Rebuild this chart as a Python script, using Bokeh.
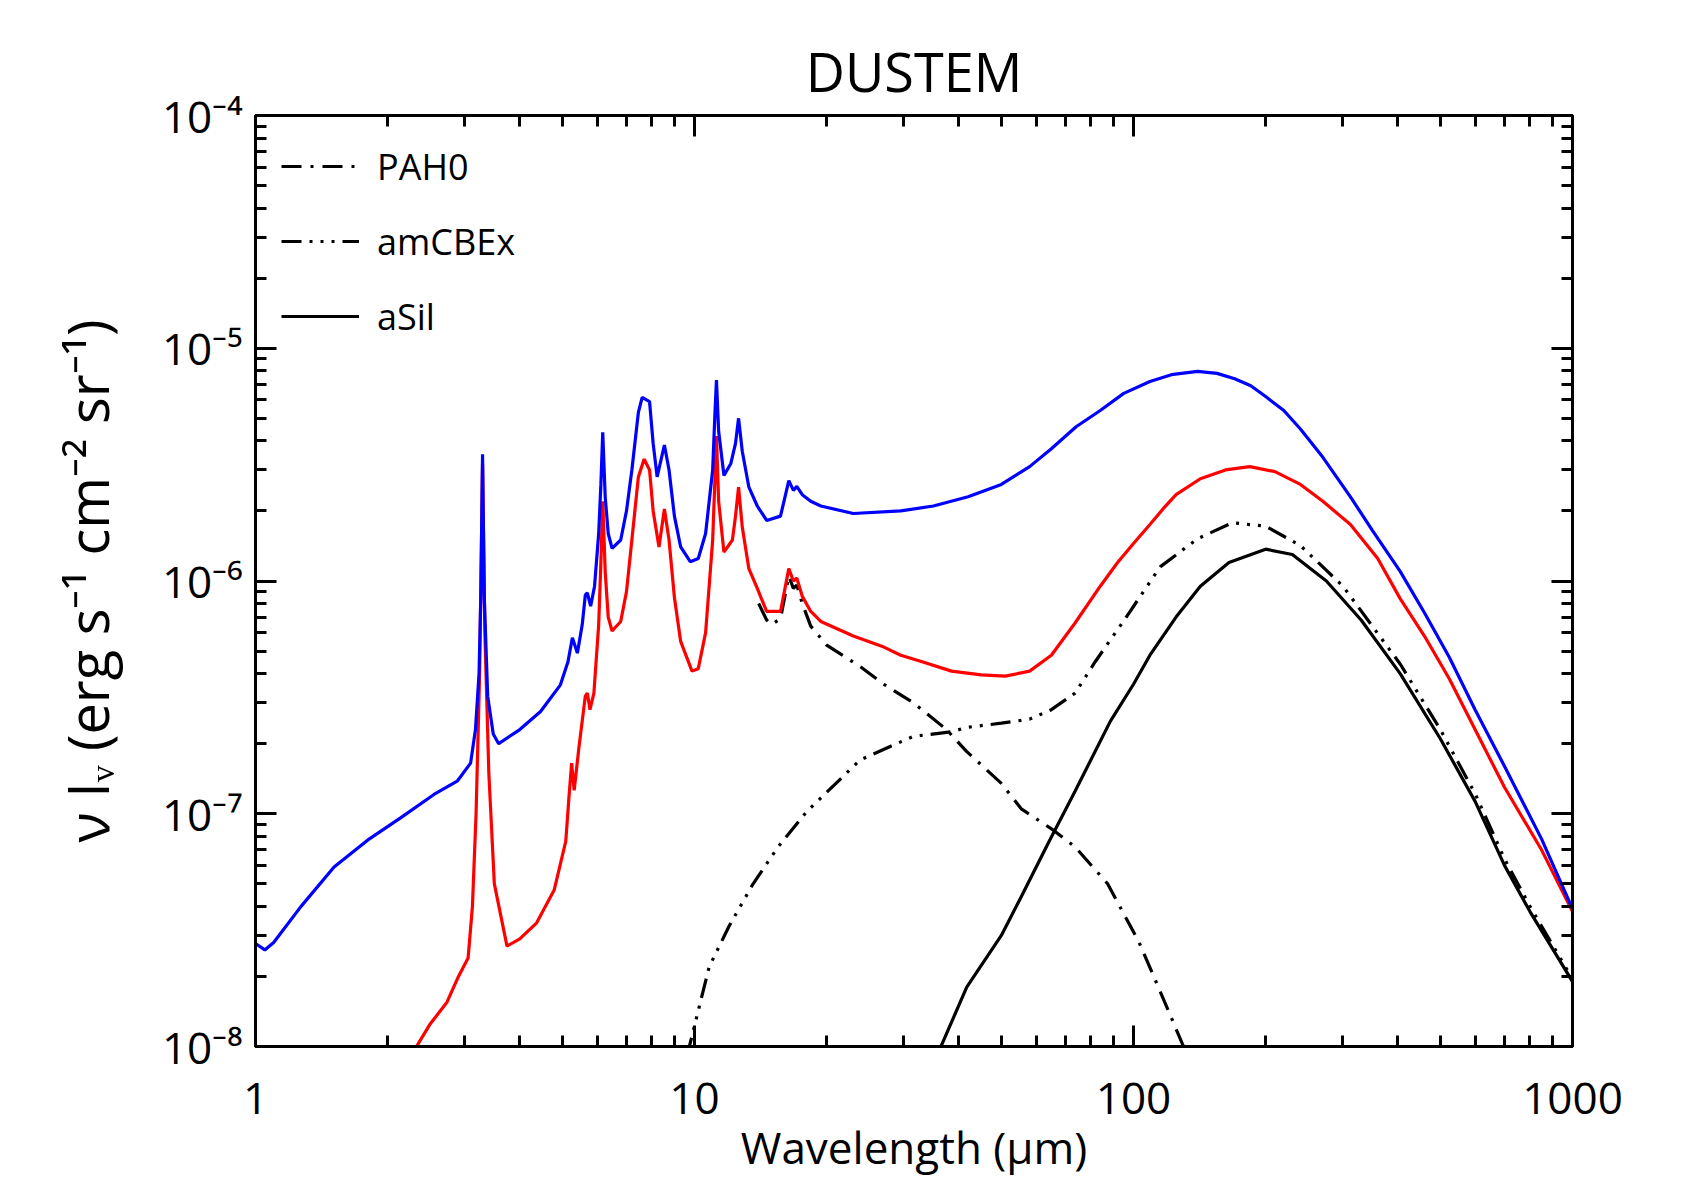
from bokeh.plotting import figure
from bokeh.models import (LogAxis, FixedTicker, CustomJSTickFormatter, Legend,
                          LegendItem, Range1d)
from bokeh.embed import file_html
from bokeh.resources import INLINE

# ---------------- data ----------------
blue_wl = [1.0, 1.05, 1.1, 1.27, 1.51, 1.8, 2.14, 2.55, 2.88, 3.09, 3.17, 3.23, 3.26,
           3.29, 3.32, 3.38, 3.48, 3.58, 4.0, 4.46, 4.95, 5.15, 5.27, 5.41, 5.55,
           5.64, 5.7, 5.8, 5.92, 6.05, 6.12, 6.18, 6.26, 6.36, 6.49, 6.79, 7.0, 7.2,
           7.45, 7.6, 7.9, 8.05, 8.22, 8.54, 8.75, 9.0, 9.3, 9.78, 10.2, 10.6, 11.0,
           11.12, 11.22, 11.35, 11.67, 12.1, 12.4, 12.6, 12.85, 13.3, 13.9, 14.6, 15.7,
           16.4, 16.8, 17.1, 17.6, 18.4, 19.4, 23.0, 29.5, 35.0, 42.0, 50.0, 58.0, 65.0,
           74.0, 84.0, 95.0, 109.0, 122.0, 140.0, 155.0, 170.0, 185.0, 200.0, 220.0,
           240.0, 270.0, 312.0, 350.0, 405.0, 460.0, 524.0, 600.0, 700.0, 850.0, 1000.0]
blue_val = [2.77e-8, 2.6e-8, 2.8e-8, 4.0e-8, 5.9e-8, 7.7e-8, 9.6e-8, 1.21e-7, 1.38e-7,
            1.65e-7, 2.3e-7, 4.0e-7, 8.5e-7, 3.5e-6, 8.5e-7, 3.2e-7, 2.2e-7, 2.0e-7,
            2.3e-7, 2.75e-7, 3.58e-7, 4.5e-7, 5.7e-7, 4.9e-7, 6.5e-7, 8.7e-7, 8.9e-7,
            7.8e-7, 9.5e-7, 1.6e-6, 2.6e-6, 4.35e-6, 2.3e-6, 1.6e-6, 1.38e-6, 1.5e-6,
            2.0e-6, 3.0e-6, 5.3e-6, 6.15e-6, 5.9e-6, 3.9e-6, 2.8e-6, 3.84e-6, 3.0e-6,
            1.9e-6, 1.4e-6, 1.21e-6, 1.25e-6, 1.6e-6, 3.0e-6, 5.0e-6, 7.3e-6, 4.4e-6,
            2.84e-6, 3.2e-6, 3.9e-6, 5.0e-6, 3.6e-6, 2.53e-6, 2.1e-6, 1.82e-6, 1.9e-6,
            2.7e-6, 2.45e-6, 2.55e-6, 2.35e-6, 2.2e-6, 2.1e-6, 1.95e-6, 2.0e-6, 2.1e-6,
            2.3e-6, 2.6e-6, 3.1e-6, 3.7e-6, 4.6e-6, 5.4e-6, 6.4e-6, 7.2e-6, 7.7e-6,
            7.95e-6, 7.8e-6, 7.4e-6, 6.9e-6, 6.2e-6, 5.4e-6, 4.5e-6, 3.4e-6, 2.3e-6,
            1.65e-6, 1.1e-6, 7.3e-7, 4.7e-7, 2.8e-7, 1.6e-7, 7.8e-8, 3.9e-8]

red_wl = [2.25, 2.5, 2.73, 2.9, 3.05, 3.12, 3.18, 3.24, 3.29, 3.33, 3.4, 3.5, 3.74, 4.0,
          4.37, 4.79, 5.09, 5.18, 5.25, 5.32, 5.45, 5.64, 5.7, 5.78, 5.9, 6.05, 6.12,
          6.18, 6.26, 6.36, 6.49, 6.79, 7.0, 7.2, 7.45, 7.68, 7.9, 8.05, 8.3, 8.54, 8.75,
          9.0, 9.3, 9.87, 10.2, 10.6, 11.0, 11.12, 11.22, 11.35, 11.67, 12.2, 12.4, 12.6,
          12.85, 13.3, 13.9, 14.6, 15.7, 16.4, 16.8, 17.1, 17.6, 18.4, 19.4, 23.0, 27.0,
          29.5, 33.0, 38.5, 45.0, 51.0, 58.0, 65.0, 73.6, 84.0, 92.0, 100.0, 109.0, 117.0,
          125.0, 142.0, 162.0, 184.0, 210.0, 240.0, 270.0, 312.0, 360.0, 405.0, 460.0,
          524.0, 600.0, 700.0, 850.0, 1000.0]
red_val = [9.0e-9, 1.25e-8, 1.55e-8, 2.0e-8, 2.4e-8, 4.0e-8, 1.0e-7, 4.0e-7, 3.2e-6,
           6.0e-7, 1.5e-7, 5.0e-8, 2.7e-8, 2.9e-8, 3.4e-8, 4.7e-8, 7.6e-8, 1.2e-7,
           1.65e-7, 1.26e-7, 1.9e-7, 3.2e-7, 3.3e-7, 2.8e-7, 3.3e-7, 6.5e-7, 1.2e-6,
           2.2e-6, 1.1e-6, 7.0e-7, 6.1e-7, 6.7e-7, 9.0e-7, 1.5e-6, 2.8e-6, 3.34e-6,
           3.0e-6, 2.0e-6, 1.4e-6, 2.04e-6, 1.5e-6, 8.5e-7, 5.5e-7, 4.1e-7, 4.2e-7,
           6.0e-7, 1.5e-6, 2.6e-6, 4.2e-6, 2.2e-6, 1.33e-6, 1.5e-6, 1.9e-6, 2.53e-6,
           1.7e-6, 1.13e-6, 9.3e-7, 7.4e-7, 7.4e-7, 1.13e-6, 1.0e-6, 1.03e-6, 8.6e-7,
           7.4e-7, 6.7e-7, 5.8e-7, 5.2e-7, 4.8e-7, 4.5e-7, 4.1e-7, 3.95e-7, 3.9e-7,
           4.1e-7, 4.8e-7, 6.6e-7, 9.5e-7, 1.2e-6, 1.45e-6, 1.75e-6, 2.05e-6, 2.35e-6,
           2.75e-6, 3.0e-6, 3.1e-6, 2.95e-6, 2.6e-6, 2.2e-6, 1.75e-6, 1.25e-6, 8.4e-7,
           5.8e-7, 3.8e-7, 2.3e-7, 1.3e-7, 7.0e-8, 3.8e-8]

pah0_wl = [14.0, 14.6, 15.0, 15.7, 16.4, 16.8, 17.1, 17.6, 18.4, 20.0, 23.8, 27.0, 31.5,
           37.5, 41.7, 50.0, 55.5, 65.7, 73.6, 87.3, 103.0, 116.0, 130.0, 135.0]
pah0_val = [8.0e-7, 6.8e-7, 6.5e-7, 6.9e-7, 1.05e-6, 9.3e-7, 9.6e-7, 8.0e-7, 6.4e-7,
            5.3e-7, 4.3e-7, 3.6e-7, 3.0e-7, 2.3e-7, 1.85e-7, 1.35e-7, 1.05e-7, 8.5e-8,
            7.2e-8, 5.0e-8, 2.8e-8, 1.66e-8, 1.0e-8, 8.0e-9]

amcbex_wl = [9.6, 10.8, 12.0, 13.6, 15.5, 18.0, 21.0, 23.8, 28.0, 31.5, 38.5, 41.7, 50.0,
             58.0, 65.0, 73.6, 81.8, 95.8, 115.0, 140.0, 168.0, 200.0, 240.0, 300.0,
             405.0, 500.0, 600.0, 700.0, 800.0, 1000.0]
amcbex_val = [9.0e-9, 2.2e-8, 3.3e-8, 5.0e-8, 7.2e-8, 1.02e-7, 1.35e-7, 1.7e-7, 1.95e-7,
              2.15e-7, 2.25e-7, 2.35e-7, 2.45e-7, 2.55e-7, 2.8e-7, 3.3e-7, 4.5e-7,
              6.9e-7, 1.15e-6, 1.52e-6, 1.78e-6, 1.72e-6, 1.42e-6, 9.5e-7, 4.4e-7,
              2.3e-7, 1.22e-7, 6.4e-8, 4.0e-8, 1.95e-8]

asil_wl = [36.0, 41.7, 50.0, 55.5, 64.0, 73.6, 88.6, 100.0, 109.0, 125.0, 142.0, 165.0,
           200.0, 230.0, 275.0, 330.0, 405.0, 500.0, 600.0, 700.0, 800.0, 1000.0]
asil_val = [9.5e-9, 1.8e-8, 3.0e-8, 4.4e-8, 7.5e-8, 1.25e-7, 2.5e-7, 3.6e-7, 4.8e-7,
            7.0e-7, 9.5e-7, 1.2e-6, 1.37e-6, 1.3e-6, 1.0e-6, 6.8e-7, 4.0e-7, 2.1e-7,
            1.13e-7, 6.0e-8, 3.8e-8, 1.9e-8]

x_ticks = [1, 10, 100, 1000]
x_tick_labels = ["1", "10", "100", "1000"]
y_ticks = [1e-8, 1e-7, 1e-6, 1e-5, 1e-4]
y_tick_labels = ["10\u207b\u2078", "10\u207b\u2077", "10\u207b\u2076", "10\u207b\u2075", "10\u207b\u2074"]

legend_labels = ["PAH0", "amCBEx", "aSil"]
title_text = "DUSTEM"
x_label = "Wavelength (\u03bcm)"
y_label = "\u03bd I\u1d65 (erg s\u207b\u00b9 cm\u207b\u00b2 sr\u207b\u00b9)"

# ---------------- styling ----------------
FONT = "Open Sans"
x_minor = [m * 10 ** e for e in range(0, 3) for m in range(2, 10)]
y_minor = [m * 10.0 ** e for e in range(-8, -4) for m in range(2, 10)]

p = figure(x_axis_type="log", y_axis_type="log",
           x_range=Range1d(1, 1000), y_range=Range1d(1e-8, 1e-4),
           width=1685, height=1179,
           min_border_left=255, min_border_right=113,
           min_border_top=115, min_border_bottom=129,
           output_backend="svg", toolbar_location=None, title=title_text)

p.title.align = "center"
p.title.text_font = FONT
p.title.text_font_size = "54px"
p.title.text_font_style = "normal"
p.title.text_color = "black"
p.title.standoff = 16

p.xgrid.visible = False
p.ygrid.visible = False
p.outline_line_color = "black"
p.outline_line_width = 3
p.background_fill_color = "white"


def fmt(tick_vals, tick_labels):
    return CustomJSTickFormatter(args=dict(tv=tick_vals, tl=tick_labels), code="""
        let best = 0, d = Infinity;
        for (let i = 0; i < tv.length; i++) {
            const dd = Math.abs(Math.log10(tick) - Math.log10(tv[i]));
            if (dd < d) { d = dd; best = i; }
        }
        return tl[best];
    """)


def style_axis(ax, tick_vals, minor, tick_labels, show_labels):
    ax.ticker = FixedTicker(ticks=tick_vals, minor_ticks=minor)
    ax.axis_line_color = "black"
    ax.axis_line_width = 3
    ax.major_tick_line_color = "black"
    ax.major_tick_line_width = 3
    ax.minor_tick_line_color = "black"
    ax.minor_tick_line_width = 3
    ax.major_tick_in = 21
    ax.major_tick_out = 0
    ax.minor_tick_in = 11
    ax.minor_tick_out = 0
    ax.major_label_text_font = FONT
    ax.major_label_text_font_size = "44px"
    ax.major_label_text_color = "black"
    if show_labels:
        ax.formatter = fmt(tick_vals, tick_labels)
        ax.axis_label_text_font = FONT
        ax.axis_label_text_font_style = "normal"
        ax.axis_label_text_color = "black"
    else:
        ax.formatter = CustomJSTickFormatter(code="return ' ';")
        ax.major_label_text_alpha = 0
        ax.major_label_standoff = 0


xax = p.xaxis[0]
style_axis(xax, x_ticks, x_minor, x_tick_labels, True)
xax.axis_label = x_label
xax.axis_label_text_font_size = "44px"
xax.major_label_standoff = 36
xax.axis_label_standoff = 0

yax = p.yaxis[0]
style_axis(yax, y_ticks, y_minor, y_tick_labels, True)
yax.axis_label = y_label
yax.axis_label_text_font_size = "56px"
yax.major_label_standoff = 13
yax.axis_label_standoff = 34

top = LogAxis()
style_axis(top, x_ticks, x_minor, x_tick_labels, False)
top.major_label_text_font_size = "2px"
p.add_layout(top, "above")
right = LogAxis()
style_axis(right, y_ticks, y_minor, y_tick_labels, False)
right.major_label_text_font_size = "2px"
p.add_layout(right, "right")

# ---------------- curves ----------------
r_pah = p.line(pah0_wl, pah0_val, line_color="black", line_width=3.2,
               line_dash="20 9 3 9")
r_amc = p.line(amcbex_wl, amcbex_val, line_color="black", line_width=3.2,
               line_dash="20 8 3 8 3 8 3 8")
r_asil = p.line(asil_wl, asil_val, line_color="black", line_width=3.2)
p.line(red_wl, red_val, line_color="#ff0000", line_width=3.2)
p.line(blue_wl, blue_val, line_color="#0000ff", line_width=3.2)

legend = Legend(items=[LegendItem(label=legend_labels[0], renderers=[r_pah]),
                       LegendItem(label=legend_labels[1], renderers=[r_amc]),
                       LegendItem(label=legend_labels[2], renderers=[r_asil])],
                location="top_left", border_line_alpha=0, background_fill_alpha=0,
                label_text_font=FONT, label_text_font_size="36px",
                label_text_color="black", glyph_width=78, glyph_height=50,
                label_height=50, spacing=25, label_standoff=18,
                margin=8, padding=18)
p.add_layout(legend)

open("out.html", "w").write(file_html(p, INLINE))
